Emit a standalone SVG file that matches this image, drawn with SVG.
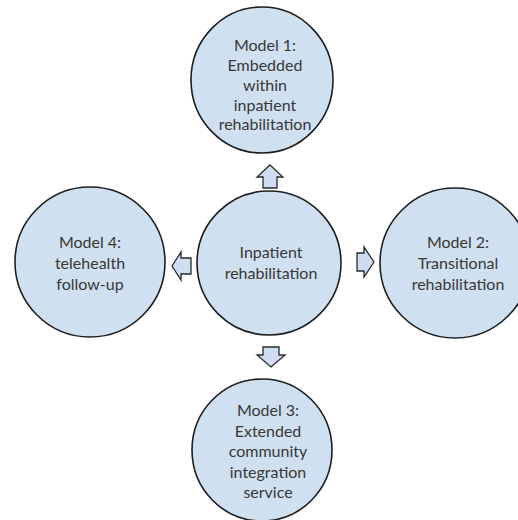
<svg xmlns="http://www.w3.org/2000/svg" width="518" height="520" viewBox="0 0 518 520">
  <style>
    .node { fill: #cfe0f0; stroke: #1e1e1e; stroke-width: 1.6; }
    .arrow { fill: #cfdcf2; stroke: #2a2a2a; stroke-width: 1.3; stroke-linejoin: miter; }
    .label { font-family: Lato, "Open Sans", "Liberation Sans", sans-serif; font-size: 16px; fill: #383838; text-anchor: middle; }
  </style>
  <rect width="518" height="520" fill="#ffffff"/>

  <g id="connectors">
    <!-- up -->
    <path class="arrow" d="M270,165 L283,177 L277,177 L277,188 L263,188 L263,177 L257,177 Z"/>
    <!-- down -->
    <path class="arrow" d="M271,367 L285,355 L279,355 L279,347 L263,347 L263,355 L257,355 Z"/>
    <!-- left -->
    <path class="arrow" d="M172,266 L181,252 L181,258 L191,258 L191,274 L181,274 L181,280 Z"/>
    <!-- right -->
    <path class="arrow" d="M374,262 L364,247 L364,253 L357,253 L357,271 L364,271 L364,277 Z"/>
  </g>

  <g id="model1">
    <ellipse class="node" cx="262" cy="80" rx="71" ry="73"/>
    <text class="label" x="265" y="51">Model 1:</text>
    <text class="label" x="265" y="71">Embedded</text>
    <text class="label" x="265" y="91">within</text>
    <text class="label" x="265" y="111">inpatient</text>
    <text class="label" x="265" y="130">rehabilitation</text>
  </g>

  <g id="inpatient">
    <circle class="node" cx="269" cy="263" r="72"/>
    <text class="label" x="271" y="258">Inpatient</text>
    <text class="label" x="271" y="279">rehabilitation</text>
  </g>

  <g id="model4">
    <circle class="node" cx="90" cy="262" r="75"/>
    <text class="label" x="90" y="248">Model 4:</text>
    <text class="label" x="90" y="269">telehealth</text>
    <text class="label" x="90" y="290">follow-up</text>
  </g>

  <g id="model2">
    <circle class="node" cx="455" cy="263" r="75"/>
    <text class="label" x="458" y="248">Model 2:</text>
    <text class="label" x="458" y="269">Transitional</text>
    <text class="label" x="458" y="290">rehabilitation</text>
  </g>

  <g id="model3">
    <ellipse class="node" cx="262" cy="450" rx="70" ry="71"/>
    <text class="label" x="268" y="416">Model 3:</text>
    <text class="label" x="268" y="437">Extended</text>
    <text class="label" x="268" y="457">community</text>
    <text class="label" x="268" y="478">integration</text>
    <text class="label" x="268" y="498">service</text>
  </g>
</svg>
